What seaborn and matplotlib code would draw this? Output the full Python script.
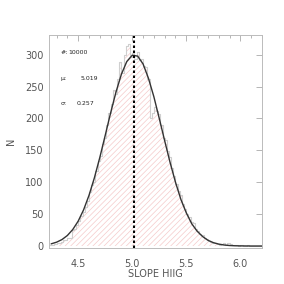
import numpy as np
import pandas as pd
import seaborn as sns
import matplotlib.pyplot as plt
from matplotlib.ticker import MultipleLocator

# histogram of slopes, bins of 0.02 starting at 4.24
bin_lo = 4.24
bin_width = 0.02
counts = [
    1, 2, 3, 4, 4, 7, 9, 10, 12, 12,
    25, 27, 33, 40, 47, 53, 61, 70, 84, 95,
    101, 117, 133, 141, 160, 169, 190, 208, 222, 245,
    238, 262, 289, 271, 300, 313, 316, 296, 302, 294,
    305, 292, 293, 283, 281, 262, 201, 209, 218, 211,
    207, 189, 170, 166, 149, 140, 122, 110, 98, 86,
    80, 66, 58, 50, 46, 38, 36, 27, 24, 19,
    17, 12, 11, 8, 6, 5, 4, 3, 2, 3,
    4, 2, 4, 3, 2, 1, 1, 0, 1, 0,
    0, 1, 0, 0, 0, 0, 0, 0,
]

# gaussian fit curve (every 0.05)
fit_x0 = 4.25
fit_step = 0.05
fit_y = [
    3.4, 6.0, 10.1, 16.5, 25.9, 39.0, 56.7, 79.4, 107, 138.8,
    173.5, 208.7, 241.6, 269.5, 289.4, 299.2, 297.8, 285.5, 263, 234.1,
    200, 165, 131, 100, 73, 52, 35, 23.3, 15, 9.0,
    5.3, 3.0, 1.6, 0.8, 0.4, 0.2, 0.1, 0.0, 0.0, 0.0,
]

n_total = 10000
mu = 5.019
sigma = 0.257

centers = np.round(bin_lo + bin_width * (np.arange(len(counts)) + 0.5), 3)
edges = [round(bin_lo + bin_width * i, 3) for i in range(len(counts) + 1)]
hist_df = pd.DataFrame({"slope": centers, "n": counts})
fit_df = pd.DataFrame({"slope": np.round(fit_x0 + fit_step * np.arange(len(fit_y)), 3), "n": fit_y})

sns.set_style("white")
plt.rcParams["hatch.linewidth"] = 0.5
fig, ax = plt.subplots(figsize=(2.84, 2.84), dpi=100)
fig.subplots_adjust(left=0.1725, right=0.9225, bottom=0.127, top=0.877)

# hatched fill
sns.histplot(
    data=hist_df, x="slope", weights="n", bins=edges, element="step",
    fill=True, color="#f4c4c4", ax=ax,
)
fill = ax.collections[-1]
fill.set_facecolor("none")
fill.set_edgecolor("#f5caca")
fill.set_linewidth(0)
fill.set_hatch("//////")
fill.set_alpha(1)

# gray outline
sns.histplot(
    data=hist_df, x="slope", weights="n", bins=edges, element="step",
    fill=False, color="#cfcfcf", linewidth=0.8, ax=ax,
)
sns.lineplot(data=fit_df, x="slope", y="n", color="#333333", linewidth=1.0, ax=ax)
ax.axvline(mu, color="black", linestyle=(0, (1.2, 1.2)), linewidth=1.5)

ax.set_xlim(4.23, 6.2)
ax.set_ylim(-3, 331)
ax.xaxis.set_major_locator(MultipleLocator(0.5))
ax.xaxis.set_minor_locator(MultipleLocator(0.1))
ax.yaxis.set_major_locator(MultipleLocator(50))
ax.tick_params(which="both", direction="in", top=True, right=True,
               color="#aaaaaa", labelcolor="#555555", labelsize=7, width=0.6)
ax.tick_params(which="major", length=4)
ax.tick_params(axis="x", which="major", pad=8)
ax.tick_params(axis="y", which="major", pad=4)
ax.tick_params(which="minor", length=2)
ax.xaxis.set_major_formatter(plt.FuncFormatter(lambda v, p: f"{v:.1f}"))
for s in ax.spines.values():
    s.set_color("#bbbbbb")
    s.set_linewidth(0.7)

ax.set_xlabel("SLOPE HIIG", fontsize=7, color="#555555", labelpad=0)
ax.set_ylabel("N", fontsize=7, color="#555555", labelpad=6)

ax.text(0.055, 0.91, "#:", transform=ax.transAxes, fontsize=4.5)
ax.text(0.09, 0.91, f"{n_total}", transform=ax.transAxes, fontsize=4.5)
ax.text(0.055, 0.79, "\u03bc:", transform=ax.transAxes, fontsize=4.5)
ax.text(0.15, 0.79, f"{mu:.3f}", transform=ax.transAxes, fontsize=4.5)
ax.text(0.055, 0.67, "\u03c3:", transform=ax.transAxes, fontsize=4.5)
ax.text(0.13, 0.67, f"{sigma:.3f}", transform=ax.transAxes, fontsize=4.5)

fig.savefig("out.png", dpi=100)
